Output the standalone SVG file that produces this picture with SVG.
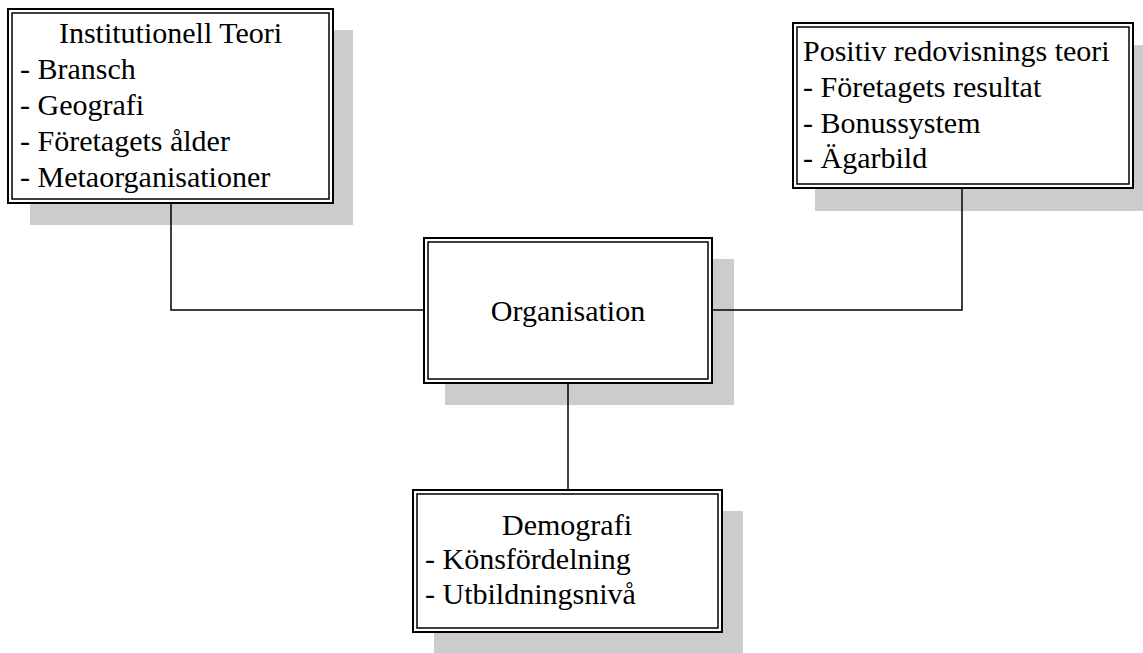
<svg xmlns="http://www.w3.org/2000/svg" width="1143" height="653" viewBox="0 0 1143 653">
<style>
.shadow{fill:#cccccc;stroke:none}
.outer{fill:#ffffff;stroke:#000;stroke-width:2}
.inner{fill:none;stroke:#000;stroke-width:1.5}
.conn{fill:none;stroke:#000;stroke-width:1.5}
text{font-family:"Liberation Serif","Times New Roman",serif;font-size:30px;fill:#000}
.c{text-anchor:middle}
</style>
<rect width="1143" height="653" fill="#fff"/>
<g id="shadows">
<rect class="shadow" x="30" y="30" width="323" height="195"/>
<rect class="shadow" x="815" y="45" width="340" height="166"/>
<rect class="shadow" x="445" y="259" width="289" height="146"/>
<rect class="shadow" x="434" y="511" width="309" height="142"/>
</g>
<g id="connectors">
<path class="conn" d="M171,203 V310 H424"/>
<path class="conn" d="M962,188 V310 H712"/>
<path class="conn" d="M568,383 V490"/>
</g>
<g id="institutionell">
<rect class="outer" x="8" y="9" width="325" height="194"/>
<rect class="inner" x="12" y="13" width="317" height="186"/>
<text class="c" x="170.5" y="43">Institutionell Teori</text>
<text x="20" y="79">- Bransch</text>
<text x="20" y="115">- Geografi</text>
<text x="20" y="151">- Företagets ålder</text>
<text x="20" y="187">- Metaorganisationer</text>
</g>
<g id="positiv">
<rect class="outer" x="793" y="23" width="340" height="165"/>
<rect class="inner" x="797" y="27" width="332" height="157"/>
<text x="803" y="61">Positiv redovisnings teori</text>
<text x="803" y="97">- Företagets resultat</text>
<text x="803" y="133">- Bonussystem</text>
<text x="803" y="168">- Ägarbild</text>
</g>
<g id="organisation">
<rect class="outer" x="424" y="238" width="288" height="145"/>
<rect class="inner" x="428" y="242" width="280" height="137"/>
<text class="c" x="568" y="321">Organisation</text>
</g>
<g id="demografi">
<rect class="outer" x="413" y="490" width="309" height="142"/>
<rect class="inner" x="417" y="494" width="301" height="134"/>
<text class="c" x="567" y="535">Demografi</text>
<text x="425" y="569">- Könsfördelning</text>
<text x="425" y="604">- Utbildningsnivå</text>
</g>
</svg>
